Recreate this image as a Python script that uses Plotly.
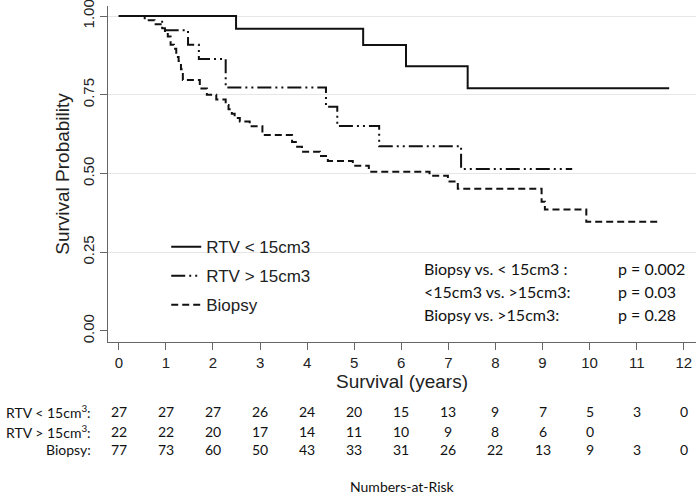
import plotly.graph_objects as go

# ---------------- data ----------------
# Kaplan-Meier steps (time in years, survival after the step); last entry = end of follow-up
rtv_small_t = [0, 2.49, 5.19, 6.10, 7.41, 11.69]
rtv_small_s = [1.0, 0.960, 0.908, 0.841, 0.771, 0.771]

rtv_large_t = [0, 0.92, 1.47, 1.70, 2.27, 4.40, 4.64, 5.53, 7.27, 9.63]
rtv_large_s = [1.0, 0.955, 0.909, 0.864, 0.773, 0.712, 0.651, 0.587, 0.514, 0.514]

biopsy_t = [0, 0.55, 0.76, 0.93, 0.98, 1.04, 1.10, 1.17, 1.22, 1.27, 1.32, 1.36,
            1.72, 1.87, 2.07, 2.27, 2.33, 2.40, 2.46, 2.57, 2.78, 3.05, 3.68,
            3.76, 3.89, 4.27, 4.44, 4.97, 5.31, 6.60, 6.99, 7.20, 8.98, 9.05,
            9.93, 11.49]
biopsy_s = [1.0, 0.987, 0.974, 0.961, 0.948, 0.935, 0.909, 0.896, 0.870, 0.857,
            0.831, 0.797, 0.770, 0.750, 0.735, 0.718, 0.704, 0.690, 0.676, 0.665,
            0.650, 0.622, 0.600, 0.585, 0.569, 0.556, 0.540, 0.525, 0.506, 0.493,
            0.475, 0.452, 0.410, 0.386, 0.347, 0.347]

series_names = ["RTV < 15cm3", "RTV > 15cm3", "Biopsy"]

# numbers at risk
risk_years = list(range(13))
risk_labels = ["RTV < 15cm<sup>3</sup>:", "RTV > 15cm<sup>3</sup>:", "Biopsy:"]
risk_small = [27, 27, 27, 26, 24, 20, 15, 13, 9, 7, 5, 3, 0]
risk_large = [22, 22, 20, 17, 14, 11, 10, 9, 8, 6, 0]
risk_biopsy = [77, 73, 60, 50, 43, 33, 31, 26, 22, 13, 9, 3, 0]

pval_labels = ["Biopsy vs. < 15cm3 :", "<15cm3 vs. >15cm3:", "Biopsy vs. >15cm3:"]
pval_values = ["p = 0.002", "p = 0.03", "p = 0.28"]
pval_y = [0.197, 0.124, 0.051]

x_ticks = list(range(13))
y_ticks = [0, 0.25, 0.5, 0.75, 1.0]
y_ticklabels = ["0.00", "0.25", "0.50", "0.75", "1.00"]

# ---------------- figure ----------------
AX_FONT = "Liberation Sans, Arial, sans-serif"
TBL_FONT = "Lato, Open Sans, sans-serif"

fig = go.Figure()
styles = [
    dict(color="#111111", width=2, dash="solid"),
    dict(color="#111111", width=2, dash="14px,4px,2px,4px,2px,4px"),
    dict(color="#111111", width=2, dash="7px,4px"),
]
for i, (t, s) in enumerate([(rtv_small_t, rtv_small_s),
                            (rtv_large_t, rtv_large_s),
                            (biopsy_t, biopsy_s)]):
    fig.add_trace(go.Scatter(x=t, y=s, mode="lines", line=styles[i],
                             line_shape="hv", name=series_names[i],
                             legendgroup=f"g{i}"))

annotations = []
# risk table
rows = [risk_small, risk_large, risk_biopsy]
row_y = [-0.208, -0.265, -0.321]
for r, vals in enumerate(rows):
    annotations.append(dict(xref="paper", yref="paper", x=-0.026, y=row_y[r],
                            text=risk_labels[r], showarrow=False,
                            xanchor="right", yanchor="middle",
                            font=dict(family=TBL_FONT, size=14, color="#111")))
    for k, v in enumerate(vals):
        annotations.append(dict(xref="x", yref="paper", x=risk_years[k], y=row_y[r],
                                text=str(v), showarrow=False,
                                xanchor="center", yanchor="middle",
                                font=dict(family=TBL_FONT, size=14, color="#111")))
annotations.append(dict(xref="paper", yref="paper", x=0.5, y=-0.43,
                        text="Numbers-at-Risk", showarrow=False,
                        xanchor="center", yanchor="middle",
                        font=dict(family=TBL_FONT, size=14, color="#111")))
# p values
for lab, val, yy in zip(pval_labels, pval_values, pval_y):
    annotations.append(dict(xref="x", yref="y", x=6.43, y=yy,
                            text=lab.replace("<", "&lt;").replace(">", "&gt;"),
                            showarrow=False, xanchor="left", yanchor="middle",
                            font=dict(family=TBL_FONT, size=16, color="#111")))
    annotations.append(dict(xref="x", yref="y", x=10.57, y=yy, text=val,
                            showarrow=False, xanchor="left", yanchor="middle",
                            font=dict(family=TBL_FONT, size=16, color="#111")))

fig.update_layout(
    width=700, height=494,
    margin=dict(l=108, r=4, t=6, b=152, autoexpand=False),
    paper_bgcolor="white", plot_bgcolor="white",
    font=dict(family=AX_FONT, color="#222"),
    showlegend=True,
    legend=dict(x=0.099, y=0.336, xanchor="left", yanchor="top",
                bgcolor="rgba(0,0,0,0)", font=dict(family=AX_FONT, size=17, color="#222"),
                tracegroupgap=4, itemwidth=30),
    annotations=annotations,
    xaxis=dict(range=[-0.23, 12.26], tickvals=x_ticks, ticks="outside", ticklen=7,
               tickcolor="#666", showline=True, linecolor="#666", linewidth=1,
               showgrid=False, zeroline=False, automargin=False,
               ticklabeloverflow="allow",
               tickfont=dict(size=15, color="#222"),
               title=dict(text="Survival (years)", font=dict(size=19, color="#222"),
                          standoff=1)),
    yaxis=dict(range=[-0.035, 1.032], tickvals=y_ticks, ticktext=y_ticklabels,
               tickangle=-90, ticks="outside", ticklen=7, tickcolor="#666",
               showline=True, linecolor="#666", linewidth=1,
               showgrid=False, zeroline=False, automargin=False,
               ticklabeloverflow="allow",
               minor=dict(tickvals=[0.25, 0.5, 0.75, 1.0], showgrid=True,
                          gridcolor="#e6e6e6", gridwidth=1, ticks=""),
               tickfont=dict(size=15, color="#222"),
               title=dict(text="Survival Probability", font=dict(size=19, color="#222"),
                          standoff=5)),
)

fig.write_html("out.html", config={"displayModeBar": False},
               post_script="document.body.style.margin='0';document.body.style.overflow='hidden';")
